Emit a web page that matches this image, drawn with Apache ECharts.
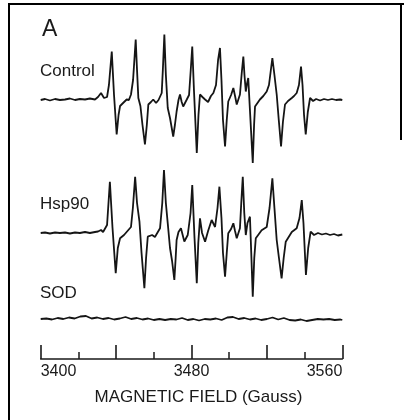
<!DOCTYPE html>
<html>
<head>
<meta charset="utf-8">
<script src="https://cdn.jsdelivr.net/npm/echarts@6/dist/echarts.min.js"></script>
<style>
  html, body { margin: 0; padding: 0; background: #fff; }
  #chart { width: 404px; height: 420px; }
</style>
</head>
<body>
<div id="chart"></div>
<script>
// magnetic field (Gauss), signal amplitude (arbitrary units)
var controlTrace = [
  [3400.0, -0.5], [3402.3, 0.5], [3404.9, -1], [3407.6, 0.5], [3410.2, -0.5], [3412.9, 0],
  [3415.5, 1], [3418.2, -0.5], [3420.8, 0.5], [3423.5, 0], [3426.1, 1], [3428.8, 0],
  [3430.4, 2.5], [3432.0, 6.5], [3433.6, 1.5], [3435.2, 2.5], [3436.2, 14.5], [3437.7, 48],
  [3438.9, 4.5], [3440.3, -35], [3441.3, -15.5], [3442.1, -6.5], [3443.7, -3.5], [3445.6, 0],
  [3446.8, -0.5], [3447.9, 5], [3449.0, 19.5], [3450.4, 60], [3451.1, 29.5], [3451.8, 1.5],
  [3452.9, -6.5], [3454.0, -25.5], [3455.3, -45], [3456.3, -25.5], [3457.1, -5], [3458.5, -2.5],
  [3459.7, 0], [3461.2, -3.5], [3462.5, -0.5], [3464.2, 6.5], [3464.8, 29.5], [3465.6, 65],
  [3466.4, 24.5], [3467.4, -8.5], [3468.6, -18.5], [3470.3, -37], [3471.2, -25.5], [3472.1, -12],
  [3473.1, -0.5], [3473.9, 5], [3474.8, -2.5], [3475.6, -7], [3477.5, 0], [3478.7, 4.5],
  [3479.6, 29.5], [3480.4, 53], [3481.3, 9.5], [3482.8, -53.5], [3483.7, -15.5], [3484.5, 5],
  [3485.8, 2.5], [3487.2, 0], [3488.8, -2.5], [3490.3, 3.5], [3491.6, 6.5], [3493.0, 14.5],
  [3494.1, 39.5], [3495.1, 51.5], [3495.9, 19.5], [3496.7, -20.5], [3497.8, -47], [3498.7, -20.5],
  [3499.5, -2], [3501.0, 4.5], [3502.2, 11.5], [3503.1, 3.5], [3504.0, -5], [3505.7, 5],
  [3506.7, 27.5], [3507.5, 43], [3508.1, 24.5], [3508.8, 8], [3509.4, 15.5], [3510.1, 21.5],
  [3511.0, -10.5], [3512.5, -63.5], [3513.2, -25.5], [3513.7, -7], [3515.0, -3.5], [3516.3, 0],
  [3518.1, 3.5], [3519.9, 8], [3521.1, 14.5], [3522.1, 29.5], [3522.9, 41.5], [3524.0, 24.5],
  [3525.2, 5], [3526.3, -20.5], [3527.5, -47], [3528.5, -22.5], [3529.6, -5], [3531.2, -1.5],
  [3533.2, 1.5], [3534.4, 3.5], [3535.8, 6.5], [3537.0, 14.5], [3538.1, 33], [3538.9, 14.5],
  [3539.7, -15.5], [3540.6, -35], [3541.7, -12.5], [3542.9, 1.5], [3544.5, -1.5], [3546.1, 0.5],
  [3548.2, -1], [3550.3, 0.5], [3552.4, -0.5], [3554.5, 0.5], [3556.7, -0.5], [3558.8, 0],
  [3560.0, -0.5]
];

var hsp90Trace = [
  [3400.0, 0], [3402.3, 0.5], [3404.9, -0.5], [3407.6, 0.5], [3410.2, 0], [3412.9, 0.5],
  [3415.5, -0.5], [3418.2, 0.5], [3420.8, 0], [3423.5, 1], [3426.1, 0], [3428.8, 1],
  [3430.4, 1.5], [3432.0, 3], [3433.1, 1], [3434.1, 3], [3435.2, 8], [3436.7, 51.3],
  [3438.1, 5], [3439.8, -40.3], [3440.9, -15], [3442.1, -5.3], [3444.2, -2], [3446.5, 3],
  [3447.9, 6], [3448.9, 25], [3450.1, 56.3], [3451.1, 30], [3452.4, 11.3], [3453.5, -20],
  [3455.0, -55.3], [3455.9, -25], [3456.8, -3.7], [3459.1, -2], [3460.6, -4], [3463.3, 4.7],
  [3464.5, 30], [3465.4, 63], [3466.4, 30], [3467.4, 9.7], [3468.6, -15], [3469.7, -28],
  [3470.9, -47], [3471.6, -25], [3472.1, -7], [3473.1, 1], [3474.4, 4.7], [3476.2, -8.5],
  [3478.0, -2], [3479.5, 20], [3480.4, 48], [3481.6, -5], [3482.8, -50.3], [3483.6, -10],
  [3484.5, 14.7], [3485.6, 0], [3487.2, -8.7], [3488.8, 2], [3490.7, 13], [3492.5, 6],
  [3493.8, 25], [3494.8, 46.3], [3495.9, 15], [3496.7, -20], [3497.8, -43.7], [3498.7, -20],
  [3499.5, -0.3], [3501.0, 4], [3502.2, 9.7], [3503.1, 2], [3504.0, -5.3], [3505.7, 4.7],
  [3506.4, 30], [3507.2, 56.3], [3508.0, 20], [3508.8, -2], [3509.7, 10], [3511.0, 16.3],
  [3511.7, -20], [3512.5, -63.7], [3513.3, -25], [3514.1, -5.3], [3517.2, 2.7], [3519.9, 6],
  [3521.4, 25], [3522.9, 54.7], [3524.0, 25], [3525.2, -7], [3526.4, -25], [3527.8, -45.3],
  [3528.9, -25], [3530.0, -8.7], [3533.2, 1], [3535.8, 4.7], [3537.3, 15], [3538.5, 33],
  [3539.4, 10], [3540.7, -42], [3541.9, -15], [3543.2, 1.3], [3545.0, -2], [3547.1, 0],
  [3549.2, -1.5], [3551.3, -0.5], [3553.5, -2], [3555.6, -1], [3557.7, -2.5], [3560.0, -1.5]
];

var sodTrace = [
  [3400, 0], [3403, 0.5], [3406, -0.5], [3409, 1], [3412, 0], [3415, 1.5], [3418, 0.5],
  [3421, 2.5], [3424, 3], [3427, 0.5], [3430, 1.5], [3433, 0], [3436, 1], [3439, -0.5],
  [3442, 0.5], [3445, 2], [3448, 0], [3451, 1], [3454, -0.5], [3457, 0.5], [3460, -1],
  [3463, 0], [3466, -1], [3469, 0], [3472, -0.5], [3475, 1], [3478, -1], [3481, 0],
  [3484, -1.5], [3487, 0], [3490, -0.5], [3493, 0.5], [3496, -1], [3499, 1.5], [3502, 2],
  [3505, 0], [3508, 1], [3511, -0.5], [3514, 0.5], [3517, -1], [3520, 0], [3523, 1.5],
  [3526, -0.5], [3529, 1], [3532, -1], [3535, -1.5], [3538, -0.5], [3541, -2], [3544, -1],
  [3547, 0], [3550, -0.5], [3553, 0], [3556, -1], [3559, -0.5], [3560, -1]
];

var traceNames = ["Control", "Hsp90", "SOD"];
var tickLabels = [3400, 3480, 3560];

// vertical stacking of the traces (y units = px)
var offsets = [259.5, 126, 40];
var labelY = [71, 204, 293];
var font = "'Liberation Sans', Arial, sans-serif";

function shift(trace, off) {
  return trace.map(function (p) { return [p[0], p[1] + off]; });
}

var chart = echarts.init(document.getElementById("chart"));

var lineStyle = { color: "#151515", width: 1.8 };
var traces = [controlTrace, hsp90Trace, sodTrace];

var option = {
  animation: false,
  backgroundColor: "#fff",
  grid: { left: 40.7, right: 61.7, top: 20, bottom: 61 },
  xAxis: {
    type: "value",
    min: 3400,
    max: 3560,
    interval: 40,
    name: "MAGNETIC FIELD (Gauss)",
    nameLocation: "middle",
    nameGap: 30,
    nameTextStyle: { color: "#1a1a1a", fontSize: 17, fontFamily: font, padding: [0, 0, 0, 14] },
    axisLine: { lineStyle: { color: "#1a1a1a", width: 1.6 } },
    axisTick: { inside: true, length: 14, lineStyle: { color: "#1a1a1a", width: 1.6 } },
    minorTick: { show: true, splitNumber: 2, length: 7, lineStyle: { color: "#1a1a1a", width: 1.5 } },
    splitLine: { show: false },
    axisLabel: {
      margin: 5,
      color: "#1a1a1a",
      fontSize: 16,
      fontFamily: font,
      alignMinLabel: "left",
      alignMaxLabel: "right",
      padding: [0, 0, 0, 0],
      formatter: function (v) { return tickLabels.indexOf(v) >= 0 ? String(v) : ""; }
    }
  },
  yAxis: { type: "value", min: 0, max: 339, show: false },
  series: traces.map(function (t, i) {
    return {
      name: traceNames[i],
      type: "line",
      data: shift(t, offsets[i]),
      showSymbol: false,
      lineStyle: lineStyle,
      clip: false
    };
  }),
  graphic: [
    { type: "rect", shape: { x: 8, y: 3, width: 2, height: 420 }, style: { fill: "#000" } },
    { type: "rect", shape: { x: 8, y: 3, width: 396, height: 2 }, style: { fill: "#000" } },
    { type: "rect", shape: { x: 400, y: 3, width: 2, height: 137 }, style: { fill: "#000" } },
    { type: "text", left: 42, top: 18, style: { text: "A", font: "23px " + font, fill: "#1a1a1a" } }
  ].concat(traceNames.map(function (n, i) {
    return {
      type: "text",
      x: 40,
      y: labelY[i],
      style: { text: n, font: "17px " + font, fill: "#1a1a1a", textVerticalAlign: "middle" }
    };
  }))
};

chart.setOption(option);
</script>
</body>
</html>
